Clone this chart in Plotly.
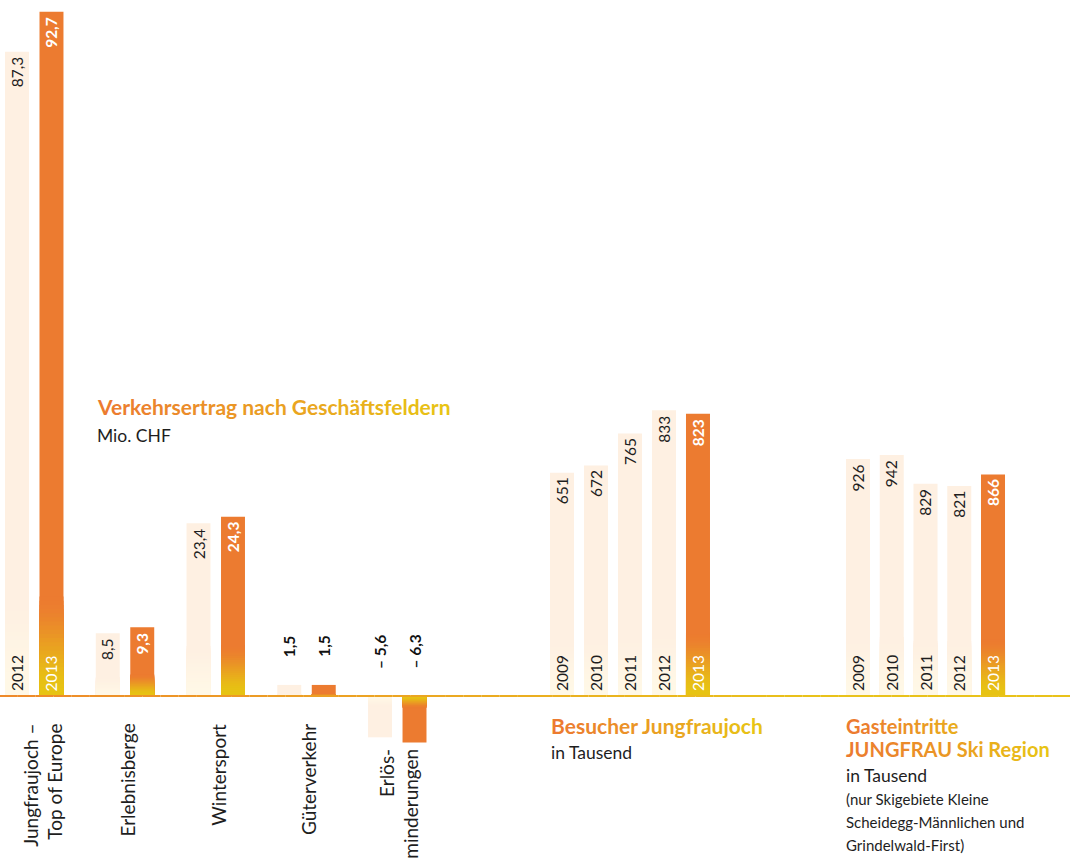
import math
import plotly.graph_objects as go

# ---------------- data ----------------
cats1 = ["Jungfraujoch", "Erlebnisberge", "Wintersport", "Güterverkehr", "Erlösminderungen"]
cat1_labels = ["Jungfraujoch –<br>Top of Europe", "Erlebnisberge", "Wintersport",
               "Güterverkehr", "Erlös-<br>minderungen"]
ertrag_2012 = [87.3, 8.5, 23.4, 1.5, -5.6]
ertrag_2013 = [92.7, 9.3, 24.3, 1.5, -6.3]
series1_years = ["2012", "2013"]

years = ["2009", "2010", "2011", "2012", "2013"]
besucher = [651, 672, 765, 833, 823]
gasteintritte = [926, 942, 829, 821, 866]

# ---------------- style ----------------
FONT = "Lato"
ORANGE = "#EC7B30"
YELLOW = "#E7C313"
CREAM = "#FEF0E2"
CREAM_B = "#FFF8E6"
DARK = "#1E1E1E"
N_STEPS = 24
W, H = 1070, 867
BASE_PX = 696
SCALE1, SCALE2, SCALE3 = 7.38, 0.343, 0.2559   # px per data unit


def hex2rgb(h):
    h = h.lstrip("#")
    return tuple(int(h[i:i + 2], 16) for i in (0, 2, 4))


def blend(c1, c2, t):
    a, b = hex2rgb(c1), hex2rgb(c2)
    return "#%02X%02X%02X" % tuple(round(a[i] + (b[i] - a[i]) * t) for i in range(3))


def fmt(v, dec):
    s = f"{abs(v):.{dec}f}".replace(".", ",")
    return ("– " + s) if v < 0 else s


fig = go.Figure()


def add_bars(x, y, tops, bottoms, xa, ya, width, scale, offset=None):
    fig.add_trace(go.Bar(x=x, y=y, width=width, offset=offset, xaxis=xa, yaxis=ya,
                         marker=dict(color=tops, line=dict(width=0)), hoverinfo="skip"))
    # gradient band near the baseline
    band = []
    for v in y:
        hpx = abs(v) * scale
        bpx = min(hpx, 3.8 * math.sqrt(hpx) * min(1.0, hpx / 100.0))
        band.append(math.copysign(bpx / scale, v))
    for k in range(N_STEPS):
        s = (N_STEPS - k) / N_STEPS
        t = (k + 1) / N_STEPS
        t = t * t * (3 - 2 * t)
        cols = [blend(a, b, t) for a, b in zip(tops, bottoms)]
        fig.add_trace(go.Bar(x=x, y=[b * s for b in band], width=width, offset=offset,
                             xaxis=xa, yaxis=ya,
                             marker=dict(color=cols, line=dict(width=0)), hoverinfo="skip"))


# group 1: Verkehrsertrag
w1 = 0.264
add_bars(cats1, ertrag_2012, [CREAM] * 5, [CREAM_B] * 5, "x", "y", w1, SCALE1, offset=-0.322)
add_bars(cats1, ertrag_2013, [ORANGE] * 5, [YELLOW] * 5, "x", "y", w1, SCALE1, offset=0.058)

# group 2: Besucher / group 3: Gasteintritte
cols2 = [CREAM] * 4 + [ORANGE]
colsb2 = [CREAM_B] * 4 + [YELLOW]
add_bars(years, besucher, cols2, colsb2, "x2", "y2", 0.706, SCALE2)
add_bars(years, gasteintritte, cols2, colsb2, "x3", "y3", 0.711, SCALE3)

annotations = []


def ann(x, y, text, xref, yref, color=DARK, size=15, xanchor="center", yanchor="middle",
        yshift=0, xshift=0, angle=0, align="center"):
    annotations.append(dict(x=x, y=y, xref=xref, yref=yref, text=text, showarrow=False,
                            textangle=angle, xanchor=xanchor, yanchor=yanchor,
                            yshift=yshift, xshift=xshift, align=align,
                            font=dict(family=FONT, size=size, color=color)))


# group 1 labels
centers = [-0.19, 0.19]
for i, c in enumerate(cats1):
    for j, vals in enumerate([ertrag_2012, ertrag_2013]):
        v = vals[i]
        xpos = i + centers[j]
        if v < 5:
            ann(xpos, 0, "<b>" + fmt(v, 1) + "</b>", "x", "y", color="#111111", size=15.5,
                yanchor="top", yshift=63, angle=-90)
        elif j == 0:
            ann(xpos, v, fmt(v, 1), "x", "y", color=DARK, size=15.5, yanchor="top",
                yshift=-3, angle=-90)
        else:
            ann(xpos, v, "<b>" + fmt(v, 1) + "</b>", "x", "y", color="white", size=15.5,
                yanchor="top", yshift=-3, angle=-90)
    mn = min(ertrag_2012[i], ertrag_2013[i], 0)
    ann(i, mn, cat1_labels[i], "x", "y", color=DARK, size=19, yanchor="top",
        yshift=(-4 if mn < 0 else -26), xshift=(8 if i == 0 else 2), angle=-90, align="right")

ann(centers[0], 0, series1_years[0], "x", "y", color=DARK, size=15.5, yanchor="bottom", yshift=3, angle=-90)
ann(centers[1], 0, series1_years[1], "x", "y", color="white", size=15.5, yanchor="bottom", yshift=3, angle=-90)

# group 2 / 3 labels (numeric category positions)
for vals, xr, yr_ in [(besucher, "x2", "y2"), (gasteintritte, "x3", "y3")]:
    for k, (ylbl, v) in enumerate(zip(years, vals)):
        last = k == len(years) - 1
        ann(k, v, ("<b>%s</b>" % fmt(v, 0)) if last else fmt(v, 0), xr, yr_,
            color="white" if last else DARK, size=15.5, yanchor="top", yshift=-3, angle=-90)
        ann(k, 0, ylbl, xr, yr_, color="white" if last else DARK, size=15.5,
            yanchor="bottom", yshift=3, angle=-90)


def grad_text(lines_list, c1=ORANGE, c2="#E8C414"):
    longest = max(len(l) for l in lines_list)
    out = []
    for line in lines_list:
        chunks = []
        for idx, ch in enumerate(line):
            if ch == " " and chunks:
                chunks[-1] = (chunks[-1][0], chunks[-1][1] + ch)
            else:
                chunks.append((idx, ch))
        parts = []
        for idx, txt in chunks:
            col = blend(c1, c2, idx / max(longest - 1, 1))
            parts.append("<span style='color:%s'>%s</span>" % (col, txt))
        out.append("<b>" + "".join(parts) + "</b>")
    return out


def paper_ann(px, py, text, size, color=DARK):
    ann(px / W, 1 - py / H, text, "paper", "paper", color=color, size=size, xanchor="left",
        yanchor="middle")


t1 = grad_text(["Verkehrsertrag nach Geschäftsfeldern"])
paper_ann(95, 407, t1[0], 21)
paper_ann(95, 435, "Mio. CHF", 17.5)

t2 = grad_text(["Besucher Jungfraujoch"])
paper_ann(549, 725, t2[0], 21)
paper_ann(549, 752, "in Tausend", 17.5)

t3 = grad_text(["Gasteintritte", "JUNGFRAU Ski Region"])
paper_ann(844, 726, t3[0], 20)
paper_ann(844, 749, t3[1], 20)
paper_ann(844, 775, "in Tausend", 17.5)
paper_ann(844, 799, "(nur Skigebiete Kleine", 15)
paper_ann(844, 822, "Scheidegg-Männlichen und", 15)
paper_ann(844, 845, "Grindelwald-First)", 15)

# baseline with horizontal gradient
shapes = []
NSEG = 60
for s in range(NSEG):
    t = s / (NSEG - 1)
    shapes.append(dict(type="line", xref="paper", yref="y", x0=s / NSEG, x1=(s + 1) / NSEG,
                       y0=0, y1=0,
                       line=dict(color=blend("#EE8A2A", "#E9C21A", min(1, t * 1.3)), width=2),
                       layer="above"))


def yrange(scale):
    return [-(H - BASE_PX) / scale, BASE_PX / scale]


hidden = dict(visible=False, showgrid=False, zeroline=False, fixedrange=True)
fig.update_layout(
    width=W, height=H, margin=dict(l=0, r=0, t=0, b=0),
    paper_bgcolor="white", plot_bgcolor="white", showlegend=False, barmode="overlay",
    font=dict(family=FONT),
    xaxis=dict(domain=[0, 0.47], range=[-0.3774, 5.164], type="category",
               categoryorder="array", categoryarray=cats1, anchor="y", **hidden),
    yaxis=dict(domain=[0, 1], range=yrange(SCALE1), anchor="x", **hidden),
    xaxis2=dict(domain=[0.49, 0.75], range=[-1.109, 7.074], type="category",
                categoryorder="array", categoryarray=years, anchor="y2", **hidden),
    yaxis2=dict(domain=[0, 1], range=yrange(SCALE2), anchor="x2", **hidden),
    xaxis3=dict(domain=[0.76, 1.0], range=[-1.327, 6.281], type="category",
                categoryorder="array", categoryarray=years, anchor="y3", **hidden),
    yaxis3=dict(domain=[0, 1], range=yrange(SCALE3), anchor="x3", **hidden),
    annotations=annotations, shapes=shapes,
)

fig.write_html("out.html")
